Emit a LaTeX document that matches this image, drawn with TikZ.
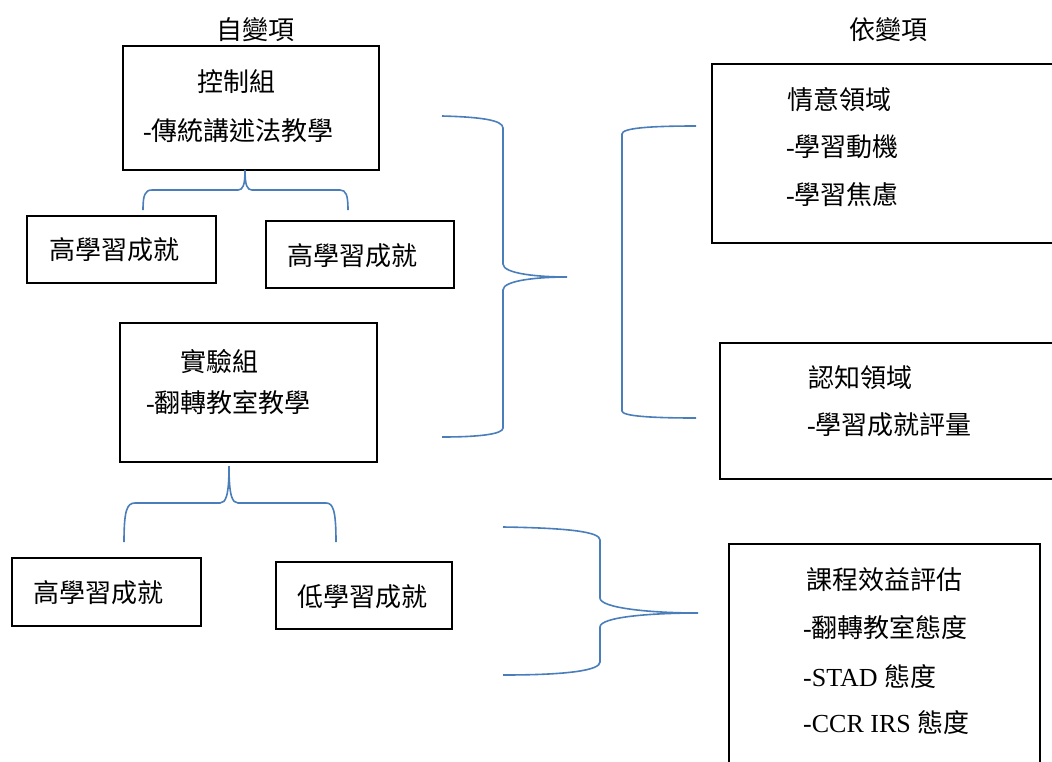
\documentclass[tikz,border=0pt]{standalone}
\usepackage{fontspec}
\setmainfont{Liberation Serif}
\newfontfamily\cjk{Noto Sans CJK TC}
\newcommand{\zh}[1]{{\cjk #1}}
\definecolor{brace}{HTML}{4A7EBB}
\tikzset{
  box/.style={draw=black, line width=1.6pt},
  brc/.style={draw=brace, line width=1.6pt},
  lbl/.style={anchor=base west, inner sep=0pt, font=\fontsize{26}{30}\selectfont},
  hdr/.style={anchor=base, inner sep=0pt, font=\fontsize{26}{30}\selectfont}
}
\begin{document}
\begin{tikzpicture}[x=1pt,y=-1pt]
\useasboundingbox (0,0) rectangle (1052,761);
\clip (0,0) rectangle (1052,761);
% boxes
\draw[box] (123,46) rectangle (379,170);
\draw[box] (27,216) rectangle (216,283);
\draw[box] (266,221) rectangle (454,288);
\draw[box] (120,323) rectangle (377,462);
\draw[box] (12,558) rectangle (201,626);
\draw[box] (276,562) rectangle (452,629);
\draw[box] (712,64) rectangle (1054,243);
\draw[box] (720,343) rectangle (1054,479);
\draw[box] (729,544) rectangle (1040,775);
% headers
\node[hdr] (h1) at (255,39) {\zh{自變項}};
\node[hdr] (h2) at (888,39) {\zh{依變項}};
% left texts
\node[lbl] (c1) at (197,91.5) {\zh{控制組}};
\node[lbl] (c2) at (143,140.5) {-\zh{傳統講述法教學}};
\node[lbl] (b1) at (49,259.5) {\zh{高學習成就}};
\node[lbl] (b2) at (287,265.5) {\zh{高學習成就}};
\node[lbl] (e1) at (180,371.5) {\zh{實驗組}};
\node[lbl] (e2) at (146,412.5) {-\zh{翻轉教室教學}};
\node[lbl] (b3) at (33,602) {\zh{高學習成就}};
\node[lbl] (b4) at (297,606) {\zh{低學習成就}};
% right texts
\node[lbl] (r1) at (787,109.5) {\zh{情意領域}};
\node[lbl] (r2) at (786,156.5) {-\zh{學習動機}};
\node[lbl] (r3) at (786,204.5) {-\zh{學習焦慮}};
\node[lbl] (r4) at (808,387.5) {\zh{認知領域}};
\node[lbl] (r5) at (807,434.5) {-\zh{學習成就評量}};
\node[lbl] (r6) at (806,589.5) {\zh{課程效益評估}};
\node[lbl] (r7) at (803,637.5) {-\zh{翻轉教室態度}};
\node[lbl] (r8) at (803,686.5) {-STAD \zh{態度}};
\node[lbl] (r9) at (803,732.5) {-CCR IRS \zh{態度}};
% braces
\draw[brc] (143,210) .. controls (143,195) and (145,190) .. (152,190) -- (238,190)
  .. controls (243,190) and (245,185) .. (245,170)
  .. controls (245,185) and (247,190) .. (252,190) -- (340,190)
  .. controls (346,190) and (348,195) .. (348,210);
\draw[brc] (124,542) .. controls (124,510) and (127,503) .. (135,503) -- (220,503)
  .. controls (226,503) and (229,495) .. (229,466)
  .. controls (229,495) and (232,503) .. (238,503) -- (326,503)
  .. controls (333,503) and (336,510) .. (336,542);
\draw[brc] (442,116) .. controls (480,117) and (503,120) .. (503,128) -- (503,264)
  .. controls (503,274) and (540,277) .. (567,277)
  .. controls (540,277) and (503,280) .. (503,290) -- (503,428)
  .. controls (503,434) and (480,437) .. (442,437);
\draw[brc] (696,126) .. controls (650,126) and (622,128) .. (622,134) -- (622,411)
  .. controls (622,416) and (650,418) .. (696,418);
\draw[brc] (503,527) .. controls (570,528) and (600,532) .. (600,540) -- (600,598)
  .. controls (600,608) and (650,613) .. (698,613)
  .. controls (650,613) and (600,617) .. (600,627) -- (600,662)
  .. controls (600,670) and (570,675) .. (503,675);
\end{tikzpicture}
\end{document}
